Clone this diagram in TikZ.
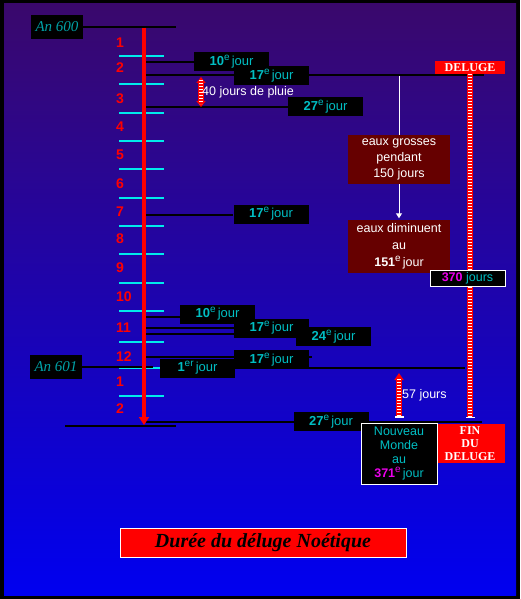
\documentclass[tikz,border=0pt]{standalone}
\usepackage{fontspec}
\setmainfont{Liberation Sans}
\newfontfamily\serifFont{Liberation Serif}
\usetikzlibrary{arrows.meta}
\pgfdeclarelayer{sky}
\pgfdeclarelayer{wires}
\pgfsetlayers{sky,wires,main}
\definecolor{skyTop}{RGB}{58,8,108}
\definecolor{skyBottom}{RGB}{0,0,240}
\definecolor{jourColor}{RGB}{0,190,195}
\definecolor{tickColor}{RGB}{0,235,235}
\definecolor{numColor}{RGB}{235,0,235}
\definecolor{waterColor}{RGB}{102,0,0}
\tikzstyle{chrono} = [x = 1pt, y = -1pt]
\tikzstyle{monthTick} = [color=tickColor, line width=1.6pt]
\tikzstyle{monthNumber} = [text=red, font=\fontsize{14}{14}\selectfont\bfseries, anchor=west, inner sep=0pt]
\tikzstyle{jourLine} = [color=black, line width=2pt]
\tikzstyle{jourStyle} = [fill=black, text=jourColor, minimum width=75pt, minimum height=19pt, inner sep=0pt, font=\fontsize{13}{13}\selectfont]
\tikzstyle{yearBox} = [fill=black, text=jourColor!85!black, minimum width=52pt, minimum height=24pt, inner sep=0pt, font=\serifFont\itshape\fontsize{15}{15}\selectfont]
\tikzstyle{waterBox} = [fill=waterColor, text=white, minimum width=102pt, inner sep=0pt, align=center]
\tikzstyle{redBox} = [fill=red, text=white, inner sep=0pt, minimum width=70pt, align=center, font=\serifFont\bfseries\fontsize{12}{13}\selectfont]
\tikzstyle{framedBox} = [fill=black, draw=white, line width=1pt, inner sep=0pt, align=center, text=jourColor]
\tikzstyle{whiteText} = [text=white, anchor=west, inner sep=0pt, font=\fontsize{12.5}{12.5}\selectfont]
\tikzstyle{ladderRed} = [color=red, line width=5.5pt]
\tikzstyle{ladderWhite} = [color=white, line width=3.5pt, dash pattern=on 1pt off 2pt]
\tikzstyle{rainTips} = [{Triangle[width=9pt,length=6pt]}-{Triangle[width=9pt,length=6pt]}]
\tikzstyle{riseTip} = [{Triangle[width=9pt,length=7pt]}-]
\tikzstyle{barTip} = [-{Bar[width=9pt,line width=1.2pt]}]
\newcommand{\supText}[1]{\raisebox{0.4em}{\fontsize{10}{10}\selectfont #1}}
\newcommand{\jourBox}[5]{\node [jourStyle] (#1) at (#2,#3) {\textbf{#4}\supText{#5}\,jour};}
\newcommand{\barLine}[2]{\coordinate (bar#1) at (146,#1); \draw [jourLine] (bar#1) -- (bar#1 -| #2.west);}
\newcommand{\ladder}[4]{\draw [ladderRed, #3] #1 -- #2; \draw [ladderWhite, #4] #1 -- #2;}

\begin{document}
\begin{tikzpicture}[chrono]
  \begin{pgfonlayer}{sky}
    \fill [black] (0,0) rectangle (520,599);
    \shade [top color=skyTop, bottom color=skyBottom] (4,4) rectangle (516,595);
    \foreach \tickY in {56,84,113,141,169,198,226,254,283,311,342,368,396} {
      \draw [monthTick] (119,\tickY) -- (164,\tickY);
    }
  \end{pgfonlayer}
  \useasboundingbox (0,0) rectangle (520,599);

  \foreach \monthY/\monthText [count=\monthIndex] in {43/1,68/2,99/3,127/4,155/5,184/6,212/7,239/8,268/9,297/10,328/11,357/12,382/1,409/2} {
    \node [monthNumber] (month\monthIndex) at (116,\monthY) {\monthText};
  }

  \node [yearBox] (an600) at (57,27) {An 600};
  \node [yearBox] (an601) at (56,367) {An 601};

  \jourBox{d10a}{231.5}{62}{10}{e}
  \jourBox{d17a}{271.5}{76}{17}{e}
  \jourBox{d27a}{325.5}{107}{27}{e}
  \jourBox{d17b}{271}{214}{17}{e}
  \jourBox{d10b}{217.5}{314}{10}{e}
  \jourBox{d24}{333.5}{336.5}{24}{e}
  \jourBox{d17c}{271.5}{328}{17}{e}
  \jourBox{d17d}{271.5}{359.5}{17}{e}
  \jourBox{d1er}{197.5}{368}{1}{er}
  \jourBox{d27b}{331}{421.5}{27}{e}

  \begin{pgfonlayer}{wires}
    \coordinate (an600End) at (176,27);
    \draw [jourLine] (an600) -- (an600End);
    \barLine{62}{d10a}
    \coordinate (bar75) at (146,75);
    \coordinate (delugeLineEnd) at (484,75);
    \draw [jourLine] (bar75) -- (delugeLineEnd);
    \barLine{107}{d27a}
    \barLine{215}{d17b}
    \barLine{317}{d10b}
    \barLine{328}{d17c}
    \barLine{334}{d24}
    \coordinate (bar357) at (146,357);
    \coordinate (stub357) at (312,357);
    \draw [jourLine] (bar357) -- (stub357);
    \coordinate (an601End) at (153,367);
    \draw [jourLine] (an601) -- (an601End);
    \coordinate (finLineEnd) at (465,368);
    \draw [jourLine] (d1er) -- (finLineEnd);
    \coordinate (bar422) at (146,422);
    \coordinate (line422End) at (482,422);
    \draw [jourLine] (bar422) -- (line422End);
    \coordinate (baseStart) at (65,426);
    \coordinate (baseEnd) at (176,426);
    \draw [jourLine] (baseStart) -- (baseEnd);
  \end{pgfonlayer}

  \coordinate (barTop) at (144,28);
  \coordinate (barTip) at (144,425);
  \draw [red, line width=4pt, -{Triangle[width=10pt,length=8pt]}] (barTop) -- (barTip);

  \node [redBox, minimum height=13pt] (deluge) at (470,67.5) {DELUGE};
  \node [redBox, minimum height=39pt] (fin) at (470,443.5) {FIN\\DU\\DELUGE};
  \node [framedBox, minimum width=76pt, minimum height=61pt, font=\fontsize{12.5}{14}\selectfont] (nouveau) at (399,453.5) {Nouveau\\Monde\\au\\{\color{numColor}\textbf{371}\supText{e}}\,jour};
  \node [waterBox, minimum height=49pt, font=\fontsize{12.5}{16}\selectfont] (grosses) at (399,159.5) {eaux grosses\\pendant\\150 jours};
  \node [waterBox, minimum height=53pt, font=\fontsize{12.5}{17}\selectfont] (diminuent) at (399,246.5) {eaux diminuent\\au\\\textbf{151}\supText{e}\,jour};

  \coordinate (flowTop) at (399,76);
  \draw [white, line width=1pt] (flowTop) -- (grosses);
  \draw [white, line width=1pt, -{Triangle[width=6pt,length=5pt]}, shorten >=1.5pt] (grosses) -- (diminuent);

  \coordinate (rainTop) at (201,77);
  \coordinate (rainBottom) at (201,107);
  \ladder{(rainTop)}{(rainBottom)}{rainTips}{shorten <=3pt, shorten >=3pt}
  \ladder{(deluge.south)}{([yshift=6pt]fin.north)}{}{barTip}
  \coordinate (newWorldTop) at (399,373);
  \ladder{(newWorldTop)}{([yshift=5pt]nouveau.north)}{riseTip}{barTip, shorten <=6pt}

  \node [framedBox, minimum width=75pt, minimum height=16pt, font=\fontsize{12.5}{12.5}\selectfont] (total) at (467.5,278) {{\color{numColor}\textbf{370}} jours};
  \node [whiteText] (rainText) at (202,92) {40 jours de pluie};
  \node [whiteText] (newWorldText) at (402,395) {57 jours};

  \node [fill=red, draw=white, line width=1pt, minimum width=286pt, minimum height=29pt, font=\serifFont\bfseries\itshape\fontsize{20}{20}\selectfont] (title) at (263,542.5) {Durée du déluge Noétique};
\end{tikzpicture}
\end{document}
